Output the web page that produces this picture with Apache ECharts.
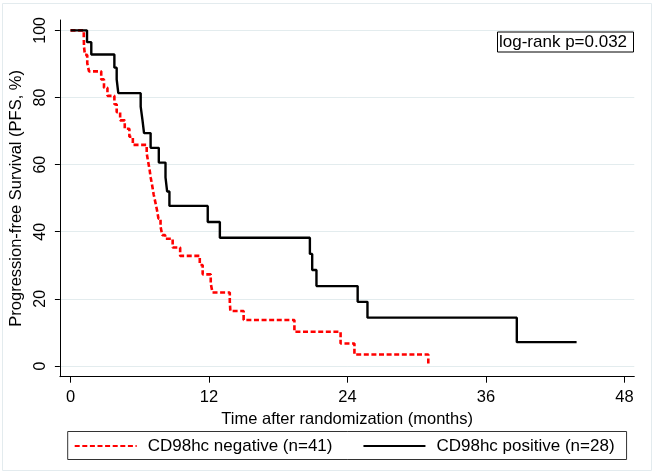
<!DOCTYPE html>
<html>
<head>
<meta charset="utf-8">
<script src="https://cdn.jsdelivr.net/npm/echarts@6/dist/echarts.min.js"></script>
<style>
html,body{margin:0;padding:0;background:#fff;}
#chart{width:655px;height:475px;}
</style>
</head>
<body>
<div id="chart"></div>
<script>
// ---- data ----
var xTicks = [0, 12, 24, 36, 48];
var yTicks = [0, 20, 40, 60, 80, 100];

var negName = 'CD98hc negative (n=41)';
var negTime = [0, 1.15, 1.17, 1.25, 1.45, 1.6, 2.66, 2.9, 3.2, 3.8, 4.0, 4.3, 4.7, 5.1, 5.4,
  6.6, 6.72, 6.85, 6.95, 7.08, 7.2, 7.35, 7.5, 7.62, 7.8, 7.95, 8.2, 8.85, 9.5,
  11.2, 11.45, 12.15, 12.3, 13.8, 13.85, 15.0, 19.4, 23.4, 24.6, 31.0];
var negSurv = [100, 97.6, 95.1, 92.7, 90.2, 87.8, 85.4, 82.9, 80.5, 78.0, 75.6, 73.2, 70.7, 68.3, 65.9,
  63.4, 61.0, 58.5, 56.1, 53.7, 51.2, 48.8, 46.3, 43.9, 41.5, 39.0, 37.9, 35.3, 32.8,
  30.1, 27.3, 24.6, 21.9, 19.2, 16.4, 13.7, 10.2, 6.7, 3.4, 0];

var posName = 'CD98hc positive (n=28)';
var posTime = [0, 1.43, 1.8, 3.8, 4.0, 4.14, 6.08, 6.23, 6.37, 6.94, 7.65, 8.23, 8.37, 8.57,
  11.89, 12.94, 20.74, 20.94, 21.31, 24.88, 25.73, 38.67, 43.85];
var posSurv = [100, 96.5, 92.8, 88.9, 85.4, 81.3, 77.3, 73.4, 69.4, 65.0, 60.6, 56.2, 52.0, 47.7,
  42.9, 38.2, 33.4, 28.6, 23.8, 19.1, 14.4, 7.1, 7.1];

var pText = 'log-rank p=0.032';
var xTitle = 'Time after randomization (months)';
var yTitle = 'Progression-free Survival (PFS, %)';

function pairs(t, s) { return t.map(function (v, i) { return [v, s[i]]; }); }

var FONT = '"Liberation Sans", Arial, sans-serif';
var chart = echarts.init(document.getElementById('chart'), null, {renderer: 'canvas'});
chart.setOption({
  backgroundColor: '#fff',
  animation: false,
  graphic: [{
    type: 'rect', silent: true, z: -10,
    shape: {x: 2.5, y: 3.5, width: 649, height: 467},
    style: {fill: 'none', stroke: '#e3ebee', lineWidth: 1}
  }],
  title: {
    text: pText,
    left: 497, top: 31.5,
    padding: [1, 7, 1, 2],
    borderColor: '#000', borderWidth: 1,
    textStyle: {fontFamily: FONT, fontSize: 17, fontWeight: 'normal', color: '#000', lineHeight: 19}
  },
  grid: {left: 53.3, right: 20.7, top: 20, bottom: 98.3, containLabel: false},
  legend: {
    data: [negName, posName],
    left: 67.7, top: 431.5,
    orient: 'horizontal',
    padding: [6, 12, 5, 6],
    itemWidth: 62, itemHeight: 14, itemGap: 30,
    borderColor: '#333', borderWidth: 1,
    itemStyle: {opacity: 0},
    textStyle: {fontFamily: FONT, fontSize: 17, color: '#000', padding: [0, 0, 0, 6]}
  },
  xAxis: {
    type: 'value', min: -0.92, max: 48.85,
    name: xTitle, nameLocation: 'middle', nameGap: 27,
    nameTextStyle: {fontFamily: FONT, fontSize: 16.5, color: '#000'},
    axisLine: {show: true, onZero: false, lineStyle: {color: '#000', width: 1}},
    axisTick: {show: true, length: 6, customValues: xTicks, lineStyle: {color: '#000'}},
    axisLabel: {customValues: xTicks, margin: 12, fontFamily: FONT, fontSize: 16.5, color: '#000'},
    splitLine: {show: false}
  },
  yAxis: {
    type: 'value', min: -3.2, max: 103.1,
    name: yTitle, nameLocation: 'middle', nameGap: 29, nameRotate: 90,
    nameTextStyle: {fontFamily: FONT, fontSize: 16.5, color: '#000'},
    axisLine: {show: true, onZero: false, lineStyle: {color: '#000', width: 1}},
    axisTick: {show: true, length: 5, customValues: yTicks, lineStyle: {color: '#000'}},
    axisLabel: {customValues: yTicks, rotate: 90, margin: 11, fontFamily: FONT, fontSize: 16, color: '#000'},
    splitLine: {show: true, customValues: yTicks, lineStyle: {color: '#e3ecee', width: 1}}
  },
  series: [{
    name: negName, type: 'line', step: 'end',
    data: pairs(negTime, negSurv),
    symbol: 'none', showSymbol: false, z: 3,
    lineStyle: {color: '#ff0000', width: 2.6, type: [5, 2.6]},
    itemStyle: {color: '#ff0000'}
  }, {
    name: posName, type: 'line', step: 'end',
    data: pairs(posTime, posSurv),
    symbol: 'none', showSymbol: false, z: 4,
    lineStyle: {color: '#000', width: 2.4, type: 'solid'},
    itemStyle: {color: '#000'}
  }]
});
</script>
</body>
</html>
